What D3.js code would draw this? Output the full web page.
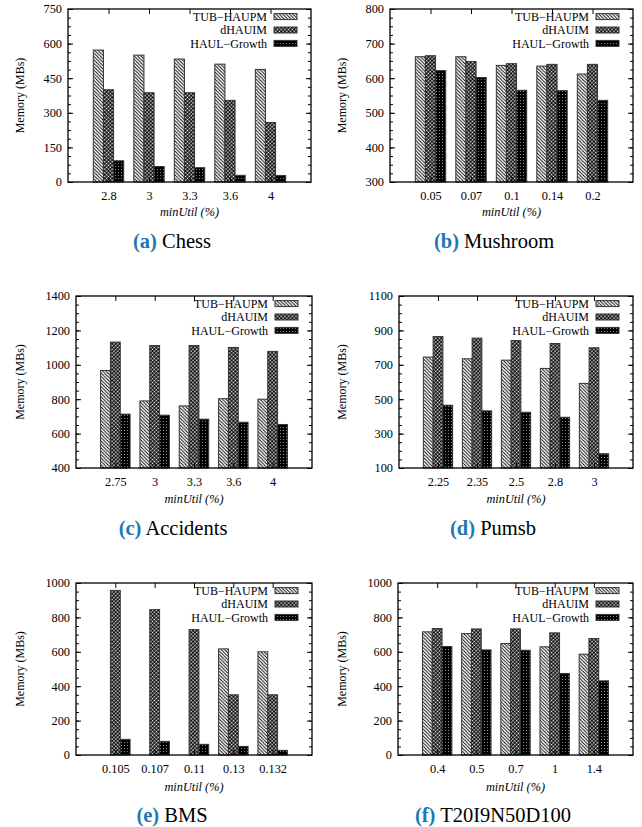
<!DOCTYPE html>
<html><head><meta charset="utf-8">
<script src="https://cdn.jsdelivr.net/npm/d3@7"></script>
<style>
html,body{margin:0;padding:0;background:#fff;}
svg{display:block;}
text{font-family:"Liberation Serif","Times New Roman",serif;fill:#000;}
</style></head><body>
<svg id="c" width="642" height="827"></svg>
<script>
// ---- data ----
const seriesNames = ["TUB\u2212HAUPM", "dHAUIM", "HAUL\u2212Growth"];

const chessCats = ["2.8", "3", "3.3", "3.6", "4"];
const chessTUB = [572, 550, 533, 511, 488];
const chessDH = [400, 387, 387, 354, 258];
const chessHAUL = [92, 67, 62, 29, 28];
const chessTicks = [0, 150, 300, 450, 600, 750];

const mushCats = ["0.05", "0.07", "0.1", "0.14", "0.2"];
const mushTUB = [662, 662, 637, 635, 612];
const mushDH = [665, 648, 642, 640, 640];
const mushHAUL = [622, 602, 565, 564, 536];
const mushTicks = [300, 400, 500, 600, 700, 800];

const accCats = ["2.75", "3", "3.3", "3.6", "4"];
const accTUB = [967, 790, 761, 803, 800];
const accDH = [1132, 1112, 1112, 1101, 1078];
const accHAUL = [713, 707, 684, 666, 653];
const accTicks = [400, 600, 800, 1000, 1200, 1400];

const pumCats = ["2.25", "2.35", "2.5", "2.8", "3"];
const pumTUB = [745, 735, 727, 679, 592];
const pumDH = [864, 855, 841, 824, 799];
const pumHAUL = [465, 432, 424, 395, 183];
const pumTicks = [100, 300, 500, 700, 900, 1100];

const bmsCats = ["0.105", "0.107", "0.11", "0.13", "0.132"];
const bmsTUB = [null, null, null, 617, 600];
const bmsDH = [957, 845, 729, 350, 350];
const bmsHAUL = [91, 79, 62, 50, 27];
const bmsTicks = [0, 200, 400, 600, 800, 1000];

const t20Cats = ["0.4", "0.5", "0.7", "1", "1.4"];
const t20TUB = [716, 706, 648, 629, 586];
const t20DH = [735, 733, 733, 710, 677];
const t20HAUL = [631, 611, 609, 474, 431];
const t20Ticks = [0, 200, 400, 600, 800, 1000];

const captions = [["(a)", "Chess"], ["(b)", "Mushroom"], ["(c)", "Accidents"], ["(d)", "Pumsb"], ["(e)", "BMS"], ["(f)", "T20I9N50D100"]];

// ---- layout ----
const panels = [
  {cats: chessCats, vals: [chessTUB, chessDH, chessHAUL], ticks: chessTicks, x0: 68, x1: 311, y0: 9, y1: 182, ylx: 20, mu: 216, capY: 248, capX: 172},
  {cats: mushCats, vals: [mushTUB, mushDH, mushHAUL], ticks: mushTicks, x0: 390, x1: 633, y0: 9, y1: 182, ylx: 342, mu: 216, capY: 248, capX: 494},
  {cats: accCats, vals: [accTUB, accDH, accHAUL], ticks: accTicks, x0: 76, x1: 312, y0: 296, y1: 468, ylx: 20, mu: 503, capY: 535, capX: 173},
  {cats: pumCats, vals: [pumTUB, pumDH, pumHAUL], ticks: pumTicks, x0: 399, x1: 633, y0: 296, y1: 468, ylx: 342, mu: 503, capY: 535, capX: 493},
  {cats: bmsCats, vals: [bmsTUB, bmsDH, bmsHAUL], ticks: bmsTicks, x0: 76, x1: 312, y0: 583, y1: 755, ylx: 20, mu: 791, capY: 822, capX: 172},
  {cats: t20Cats, vals: [t20TUB, t20DH, t20HAUL], ticks: t20Ticks, x0: 398, x1: 633, y0: 583, y1: 755, ylx: 342, mu: 791, capY: 822, capX: 493}
];

const svg = d3.select("#c");
const defs = svg.append("defs");
// pattern 1: diagonal lines "\"
const s1 = 3.4;
const p1 = defs.append("pattern").attr("id", "p1").attr("patternUnits", "userSpaceOnUse").attr("width", s1).attr("height", s1);
p1.append("rect").attr("width", s1).attr("height", s1).attr("fill", "#fff");
p1.append("path").attr("d", `M-1,-1L${s1 + 1},${s1 + 1}M-1,${s1 - 1}L1,${s1 + 1}M${s1 - 1},-1L${s1 + 1},1`).attr("stroke", "#000").attr("stroke-width", 0.9);
// pattern 2: crosshatch-like diagonal checker with white dots
const s2 = 2.6;
const p2 = defs.append("pattern").attr("id", "p2").attr("patternUnits", "userSpaceOnUse").attr("width", s2).attr("height", s2)
  .attr("patternTransform", "rotate(45)");
p2.append("rect").attr("width", s2).attr("height", s2).attr("fill", "#000");
p2.append("circle").attr("cx", s2 / 2).attr("cy", s2 / 2).attr("r", 0.85).attr("fill", "#fff");
// pattern 3: dark with sparse dots
const p3 = defs.append("pattern").attr("id", "p3").attr("patternUnits", "userSpaceOnUse").attr("width", 3).attr("height", 3);
p3.append("rect").attr("width", 3).attr("height", 3).attr("fill", "#000");
p3.append("rect").attr("x", 1).attr("y", 1).attr("width", 1).attr("height", 1).attr("fill", "#888");
const fills = ["url(#p1)", "url(#p2)", "url(#p3)"];

panels.forEach((p, pi) => {
  const g = svg.append("g");
  const x = d3.scaleLinear().domain([0, 6]).range([p.x0, p.x1]);
  const ymin = p.ticks[0], ymax = p.ticks[p.ticks.length - 1];
  const y = d3.scaleLinear().domain([ymin, ymax]).range([p.y1, p.y0]);
  const step = p.ticks[1] - p.ticks[0];
  const minor = d3.range(ymin, ymax + 0.001, step / 4);

  // bars
  p.vals.forEach((vals, si) => {
    g.append("g").selectAll("rect").data(vals.map((v, i) => ({v, i})).filter(d => d.v != null))
      .join("rect")
      .attr("x", d => x(d.i + 1 + (si - 1) * 0.25 - 0.125))
      .attr("width", x(0.25) - x(0))
      .attr("y", d => y(d.v))
      .attr("height", d => y(ymin) - y(d.v))
      .attr("fill", fills[si])
      .attr("stroke", "#333").attr("stroke-width", 1);
  });

  // axes
  const axL = g.append("g").attr("transform", `translate(${p.x0},0)`)
    .call(d3.axisLeft(y).tickValues(p.ticks).tickSize(-5).tickPadding(6).tickFormat(d3.format("d")));
  axL.select(".domain").remove();
  const bare = [];
  bare.push(g.append("g").attr("transform", `translate(${p.x0},0)`)
    .call(d3.axisLeft(y).tickValues(minor).tickSize(-3)));
  bare.push(g.append("g").attr("transform", `translate(${p.x1},0)`)
    .call(d3.axisRight(y).tickValues(p.ticks).tickSize(-5)));
  bare.push(g.append("g").attr("transform", `translate(${p.x1},0)`)
    .call(d3.axisRight(y).tickValues(minor).tickSize(-3)));
  bare.push(g.append("g").attr("transform", `translate(0,${p.y0})`)
    .call(d3.axisTop(x).tickValues([1, 2, 3, 4, 5]).tickSize(-5)));
  bare.forEach(a => { a.select(".domain").remove(); a.selectAll("text").remove(); });
  const axB = g.append("g").attr("transform", `translate(0,${p.y1})`)
    .call(d3.axisBottom(x).tickValues([1, 2, 3, 4, 5]).tickSize(-5).tickPadding(9).tickFormat(d => p.cats[d - 1]));
  axB.select(".domain").remove();
  g.selectAll(".tick text").attr("font-size", 12.3).attr("font-family", "Liberation Serif, Times New Roman, serif");
  g.selectAll(".tick line").attr("stroke", "#000").attr("stroke-width", 1);

  // frame
  g.append("rect").attr("x", p.x0).attr("y", p.y0).attr("width", p.x1 - p.x0).attr("height", p.y1 - p.y0)
    .attr("fill", "none").attr("stroke", "#000").attr("stroke-width", 1.3);

  // legend
  seriesNames.forEach((n, si) => {
    const ly = p.y0 + 7.6 + si * 13.4;
    g.append("text").attr("x", p.x1 - 44).attr("y", ly).attr("dy", "0.35em")
      .attr("text-anchor", "end").attr("font-size", 12).text(n);
    g.append("rect").attr("x", p.x1 - 37).attr("y", ly - 3).attr("width", 23).attr("height", 6)
      .attr("fill", fills[si]).attr("stroke", "#333").attr("stroke-width", 1);
  });

  // y label
  g.append("text").attr("transform", `translate(${p.ylx},${(p.y0 + p.y1) / 2}) rotate(-90)`)
    .attr("text-anchor", "middle").attr("dy", "0.35em").attr("font-size", 12).text("Memory (MBs)");
  // x label
  g.append("text").attr("x", (p.x0 + p.x1) / 2).attr("y", p.mu).attr("text-anchor", "middle")
    .attr("font-size", 12.3).attr("font-style", "italic").text("minUtil (%)");
  // caption
  const cap = g.append("text").attr("x", p.capX).attr("y", p.capY).attr("text-anchor", "middle").attr("font-size", 20.5);
  cap.append("tspan").attr("font-weight", "bold").attr("fill", "#2077b4").text(captions[pi][0]);
  cap.append("tspan").text(" " + captions[pi][1]);
});
</script>
</body></html>
